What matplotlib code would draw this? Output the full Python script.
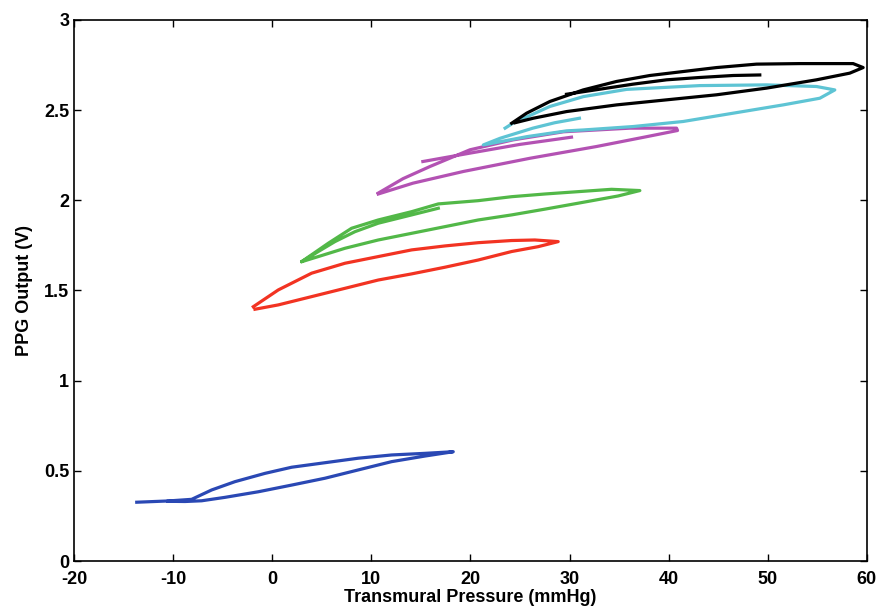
import matplotlib.pyplot as plt

plt.rcParams['font.family'] = ['Liberation Sans', 'DejaVu Sans']
plt.rcParams['font.weight'] = 'bold'
plt.rcParams['axes.unicode_minus'] = False

nan = float('nan')

# hysteresis loops (transmural pressure mmHg, PPG volts)
# nan splits a separate stroke of the same trace
blue_x = [-13.67, -10.49, -8.13, -6.11, -3.76, -0.73, 1.96, 5.32, 8.68, 12.05, 15.41, 18.27,
          15.41, 12.05, 8.68, 5.32, 1.96, -1.4, -4.77, -7.12, -8.8, -10.5]
blue_y = [0.326, 0.333, 0.342, 0.394, 0.440, 0.486, 0.520, 0.545, 0.570, 0.588, 0.597, 0.606,
          0.582, 0.551, 0.505, 0.459, 0.421, 0.384, 0.353, 0.334, 0.330, 0.331]

red_x = [-1.91, 0.61, 3.98, 7.34, 10.7, 14.07, 17.43, 20.79, 24.16, 26.5, 28.86,
         26.84, 24.16, 20.79, 17.43, 14.07, 10.7, 7.34, 3.98, 0.61, -1.74]
red_y = [1.410, 1.503, 1.596, 1.651, 1.688, 1.725, 1.747, 1.765, 1.777, 1.780, 1.771,
         1.743, 1.716, 1.669, 1.629, 1.592, 1.558, 1.512, 1.466, 1.420, 1.396]

green_x = [16.76, 14.07, 10.7, 8.35, 6.33, 4.65, 3.3, 2.97,
           5.66, 8.01, 10.7, 14.07, 16.76, 20.79, 24.16, 27.52, 30.88, 34.24, 37.1,
           34.9, 30.88, 27.52, 24.16, 20.79, 17.43, 14.07, 10.7, 7.34, 4.65, 3.0]
green_y = [1.956, 1.919, 1.873, 1.826, 1.771, 1.716, 1.670, 1.660,
           1.762, 1.845, 1.891, 1.937, 1.980, 1.998, 2.020, 2.035, 2.048, 2.061, 2.054,
           2.024, 1.984, 1.951, 1.919, 1.891, 1.854, 1.817, 1.780, 1.734, 1.688, 1.660]

magenta_x = [15.2, 20.0, 25.0, 30.2, nan,
             10.7, 13.2, 15.9, 19.95, 24.3, 29.4, 36.1, 40.8, 40.9,
             37.8, 32.7, 26.0, 19.3, 14.2, 10.7]
magenta_y = [2.215, 2.262, 2.310, 2.350, nan,
             2.040, 2.120, 2.187, 2.280, 2.335, 2.380, 2.400, 2.400, 2.387,
             2.353, 2.298, 2.233, 2.160, 2.095, 2.035]

cyan_x = [31.0, 28.5, 26.3, 23.0, 21.3,
          25.7, 29.7, 31.4, 36.42, 41.47, 46.51, 51.56, 55.26, 56.77,
          54.92, 49.88, 43.15, 35.76, 31.4, 28.0, 26.0, 24.5, 23.5]
cyan_y = [2.455, 2.430, 2.400, 2.344, 2.307,
          2.353, 2.385, 2.390, 2.409, 2.437, 2.483, 2.529, 2.566, 2.612,
          2.631, 2.640, 2.636, 2.615, 2.575, 2.520, 2.470, 2.435, 2.400]

black_x = [49.2, 46.51, 43.15, 39.79, 36.42, 33.06, 29.7, nan,
           24.16, 25.67, 28.02, 31.38, 34.75, 38.11, 41.47, 44.84, 48.87, 53.24, 58.62, 59.63,
           58.28, 54.92, 49.88, 44.84, 39.79, 34.75, 29.7, 26.34, 24.5]
black_y = [2.695, 2.692, 2.681, 2.668, 2.644, 2.616, 2.588, nan,
           2.427, 2.483, 2.548, 2.612, 2.659, 2.692, 2.714, 2.736, 2.755, 2.758, 2.758, 2.736,
           2.705, 2.668, 2.622, 2.585, 2.557, 2.529, 2.492, 2.455, 2.430]

fig = plt.figure(figsize=(8.76, 6.10), dpi=100)
ax = fig.add_axes([0.0845, 0.0803, 0.905, 0.887])

lw = 2.3
ax.plot(blue_x, blue_y, color='#2a48b4', lw=lw)
ax.plot(red_x, red_y, color='#f23322', lw=lw)
ax.plot(green_x, green_y, color='#52b848', lw=lw)
ax.plot(magenta_x, magenta_y, color='#b352b3', lw=lw)
ax.plot(cyan_x, cyan_y, color='#5ec4d4', lw=lw)
ax.plot(black_x, black_y, color='black', lw=lw)

ax.set_xlim(-20, 60)
ax.set_ylim(0, 3)
ax.set_xticks(range(-20, 61, 10))
ax.set_yticks([0, 0.5, 1, 1.5, 2, 2.5, 3])
ax.set_yticklabels(['0', '0.5', '1', '1.5', '2', '2.5', '3'])
ax.tick_params(direction='in', top=True, right=True, labelsize=13, length=5, width=1)
ax.tick_params(axis='x', pad=7.5)
for s in ax.spines.values():
    s.set_linewidth(1.2)

ax.set_xlabel('Transmural Pressure (mmHg)', fontsize=13, fontweight='bold', labelpad=0.5)
ax.set_ylabel('PPG Output (V)', fontsize=13, fontweight='bold', labelpad=8)

fig.savefig('out.png', dpi=100)
